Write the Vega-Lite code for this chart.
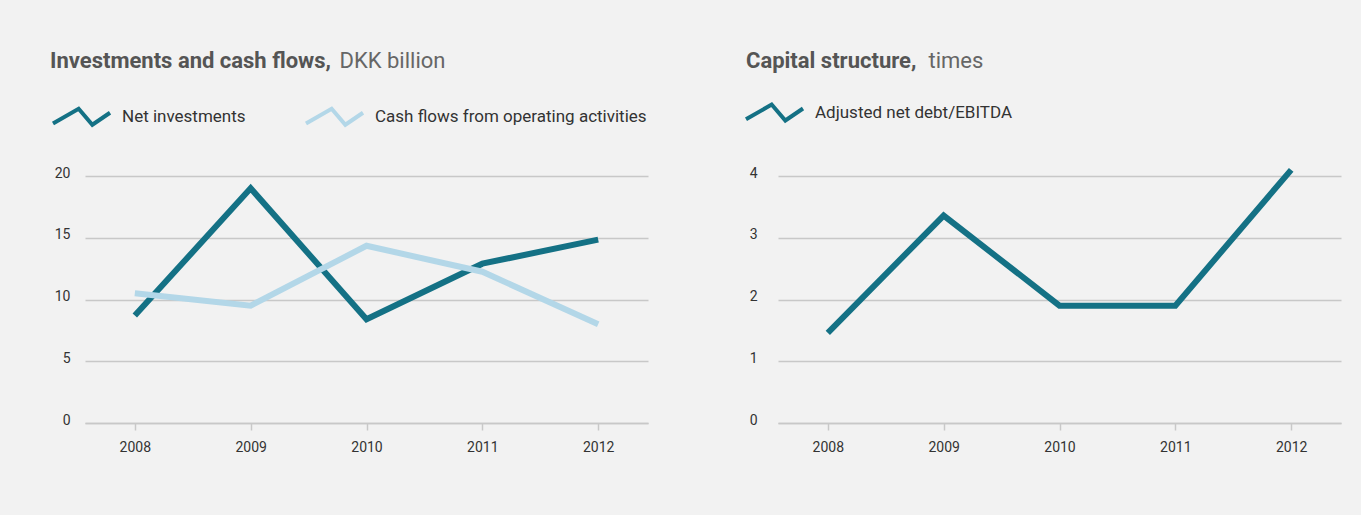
{
  "$schema": "https://vega.github.io/schema/vega-lite/v6.json",
  "background": "#f2f2f2",
  "padding": {"left": 50, "top": 49, "right": 22, "bottom": 61},
  "config": {
    "font": "Roboto",
    "view": {"stroke": null},
    "axis": {"labelFont": "Roboto", "labelFontSize": 14, "labelColor": "#333333", "gridColor": "#c8c8c8", "gridWidth": 1.5, "domainColor": "#c8c8c8", "tickColor": "#c8c8c8"},
    "legend": {"labelFont": "Roboto", "labelFontSize": 17, "labelColor": "#333333", "labelLimit": 500},
    "title": {"font": "Roboto", "fontSize": 22, "fontWeight": "bold", "color": "#555555", "anchor": "start", "frame": "group"},
    "concat": {"spacing": 96}
  },
  "resolve": {"scale": {"color": "independent"}, "legend": {"color": "independent"}},
  "hconcat": [
    {
      "width": 563,
      "height": 247,
      "title": {"text": "Investments and cash flows,", "dx": -35, "offset": -24},
      "data": {"values": [
        {"year": "2008", "series": "Net investments", "value": 8.7},
        {"year": "2009", "series": "Net investments", "value": 19.0},
        {"year": "2010", "series": "Net investments", "value": 8.4},
        {"year": "2011", "series": "Net investments", "value": 12.9},
        {"year": "2012", "series": "Net investments", "value": 14.85},
        {"year": "2008", "series": "Cash flows from operating activities", "value": 10.5},
        {"year": "2009", "series": "Cash flows from operating activities", "value": 9.5},
        {"year": "2010", "series": "Cash flows from operating activities", "value": 14.35},
        {"year": "2011", "series": "Cash flows from operating activities", "value": 12.25},
        {"year": "2012", "series": "Cash flows from operating activities", "value": 8.0}
      ]},
      "mark": {"type": "line", "strokeWidth": 6, "strokeCap": "butt", "strokeJoin": "miter"},
      "encoding": {
        "x": {"field": "year", "type": "ordinal", "scale": {"type": "point", "padding": 0.43},
          "axis": {"title": null, "labelAngle": 0, "tickSize": 7, "labelPadding": 10, "domainWidth": 1.5, "tickWidth": 1.5}},
        "y": {"field": "value", "type": "quantitative", "scale": {"domain": [0, 20], "nice": false},
          "axis": {"values": [0, 5, 10, 15, 20], "domain": false, "ticks": false, "labelPadding": 15, "labelBaseline": "alphabetic", "labelOffset": 1,
            "title": "DKK billion", "titleAngle": 0, "titleAlign": "left", "titleBaseline": "alphabetic", "titleX": 254, "titleY": -109,
            "titleFont": "Roboto", "titleFontSize": 22, "titleFontWeight": "normal", "titleColor": "#666666"}},
        "color": {"field": "series", "type": "nominal", "sort": ["Net investments", "Cash flows from operating activities"],
          "scale": {"domain": ["Net investments", "Cash flows from operating activities"], "range": ["#147185", "#b3d7e8"]},
          "legend": {"title": null, "orient": "none", "direction": "horizontal", "legendX": -34, "legendY": -90,
            "symbolType": "M-1,0.24L-0.1,-0.28L0.38,0.28L1,-0.14", "symbolSize": 3249, "symbolStrokeWidth": 4, "symbolFillColor": "transparent",
            "labelOffset": 10, "columnPadding": 52}}
      }
    },
    {
      "width": 563,
      "height": 247,
      "title": {"text": "Capital structure,", "dx": -32, "offset": -24},
      "data": {"values": [
        {"year": "2008", "series": "Adjusted net debt/EBITDA", "value": 1.46},
        {"year": "2009", "series": "Adjusted net debt/EBITDA", "value": 3.36},
        {"year": "2010", "series": "Adjusted net debt/EBITDA", "value": 1.9},
        {"year": "2011", "series": "Adjusted net debt/EBITDA", "value": 1.9},
        {"year": "2012", "series": "Adjusted net debt/EBITDA", "value": 4.1}
      ]},
      "mark": {"type": "line", "strokeWidth": 6, "strokeCap": "butt", "strokeJoin": "miter"},
      "encoding": {
        "x": {"field": "year", "type": "ordinal", "scale": {"type": "point", "padding": 0.43},
          "axis": {"title": null, "labelAngle": 0, "tickSize": 7, "labelPadding": 10, "domainWidth": 1.5, "tickWidth": 1.5}},
        "y": {"field": "value", "type": "quantitative", "scale": {"domain": [0, 4], "nice": false},
          "axis": {"values": [0, 1, 2, 3, 4], "domain": false, "ticks": false, "labelPadding": 21, "labelBaseline": "alphabetic", "labelOffset": 1,
            "title": "times", "titleAngle": 0, "titleAlign": "left", "titleBaseline": "alphabetic", "titleX": 150, "titleY": -109,
            "titleFont": "Roboto", "titleFontSize": 22, "titleFontWeight": "normal", "titleColor": "#666666"}},
        "color": {"field": "series", "type": "nominal",
          "scale": {"domain": ["Adjusted net debt/EBITDA"], "range": ["#147185"]},
          "legend": {"title": null, "orient": "none", "direction": "horizontal", "legendX": -34, "legendY": -94,
            "symbolType": "M-1,0.24L-0.1,-0.28L0.38,0.28L1,-0.14", "symbolSize": 3249, "symbolStrokeWidth": 4, "symbolFillColor": "transparent",
            "labelOffset": 10}}
      }
    }
  ]
}
